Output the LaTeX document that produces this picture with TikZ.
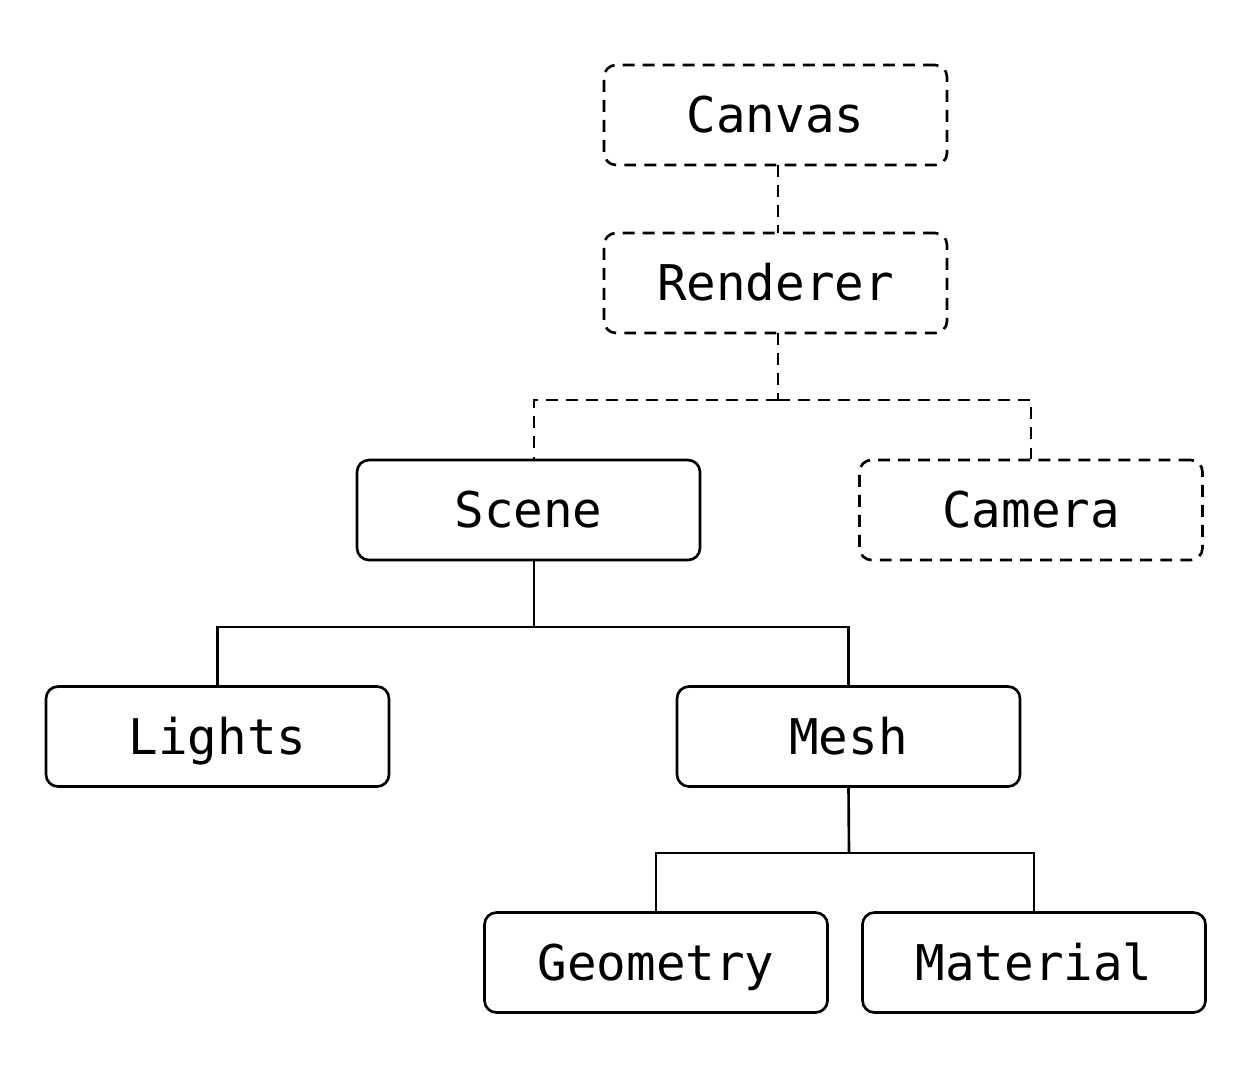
\documentclass[tikz,border=0pt]{standalone}
\usepackage{fontspec}
\setmonofont{DejaVu Sans Mono}
\usepackage{tikz}

\tikzset{
	box/.style={draw, rounded corners=0.24cm, line width=1.5pt, minimum width=6.86cm, minimum height=2.0cm, inner sep=0pt, outer sep=0pt, text height=20.4pt, text depth=0pt, font=\ttfamily\fontsize{28}{32}\selectfont},
	hidden/.style={dash pattern=on 6.8pt off 4.6pt},
	link/.style={line width=1.5pt}
}

\begin{document}
\begin{tikzpicture}
\useasboundingbox (0,0) rectangle (25.04,-21.58);

\node[box,hidden] (canvas) at (15.51,-2.30) {Canvas};
\node[box,hidden] (renderer) at (15.51,-5.66) {Renderer};
\node[box] (scene) at (10.57,-10.20) {Scene};
\node[box,hidden] (camera) at (20.62,-10.20) {Camera};
\node[box] (lights) at (4.35,-14.73) {Lights};
\node[box] (mesh) at (16.97,-14.73) {Mesh};
\node[box] (geometry) at (13.12,-19.25) {Geometry};
\node[box] (material) at (20.68,-19.25) {Material};

\coordinate (rj) at (15.56,-8.00);
\coordinate (sj) at (10.68,-12.54);
\coordinate (mj) at (16.98,-17.06);

\begin{scope}[link]
\draw[hidden] (canvas.south -| rj)--(renderer.north -| rj);
\draw[hidden] (renderer.south -| rj)--(rj);
\draw[hidden] (rj) -| (scene.north -| sj);
\draw[hidden] (rj) -| (camera.north);

\draw (scene.south -| sj)--(sj);
\draw (sj) -| (lights.north);
\draw (sj) -| (mesh.north);

\draw (mesh.south)--(mj);
\draw (mj) -| (geometry.north);
\draw (mj) -| (material.north);
\end{scope}

\end{tikzpicture}
\end{document}
